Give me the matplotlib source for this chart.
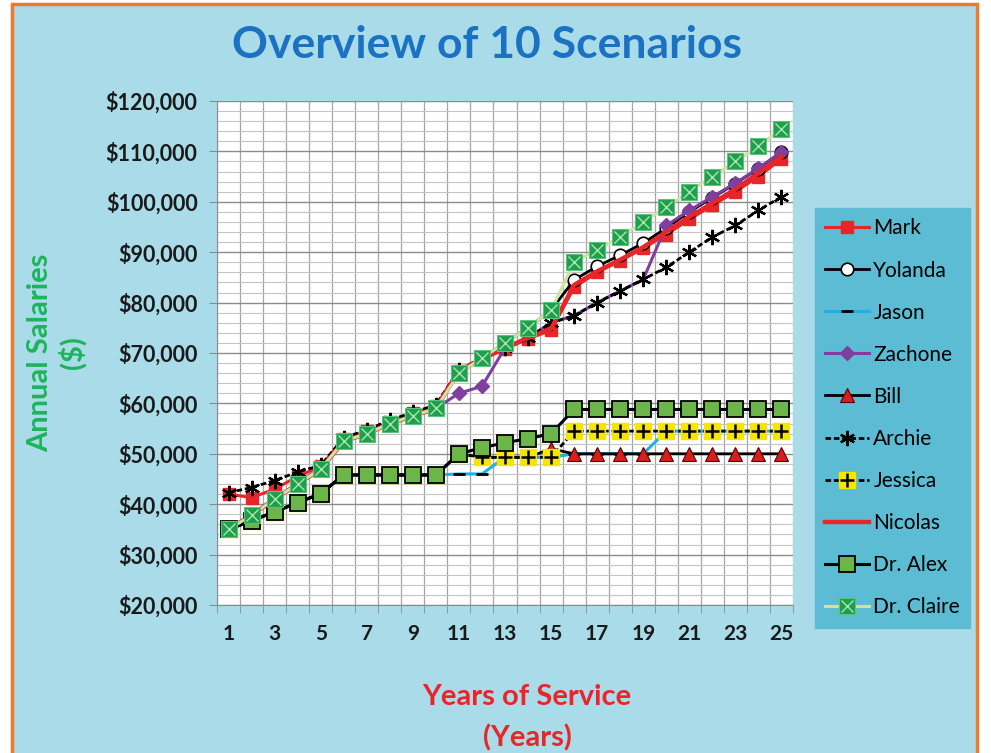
import numpy as np
import matplotlib.pyplot as plt
from matplotlib.patches import Rectangle
from matplotlib.ticker import MultipleLocator, FixedLocator, StrMethodFormatter

plt.rcParams['font.family'] = ['Lato', 'DejaVu Sans']

# -----------------------------
# Data
# -----------------------------
years = np.arange(1, 26)

mark = [42000, 41300, 43000, 45500, 47500, 53000, 54500, 56300, 58000, 59500,
        66500, 68800, 70800, 72800, 74500, 83000, 86000, 88300, 90800, 93500,
        96500, 99300, 102000, 105000, 108500]
yolanda = [35000, 37800, 41000, 44000, 47000, 52500, 54000, 56000, 57500, 59000,
           66000, 69000, 72000, 75000, 78500, 84500, 87200, 89400, 91800, 94800,
           98000, 100800, 103600, 106600, 109800]
jason = [35000, 36700, 38500, 40300, 42100, 45800, 45800, 45800, 45800, 45800,
         46000, 46000, 49300, 49300, 49300, 50000, 50000, 50000, 50000, 54500,
         54500, 54500, 54500, 54500, 54500]
zachone = [35000, 37800, 41000, 44000, 47000, 52500, 54000, 56000, 57500, 59000,
           62000, 63400, 71000, 73000, 76000, 77400, 80000, 82300, 84600, 95300,
           98300, 101000, 103700, 106700, 109900]
bill = [35000, 36700, 38500, 40300, 42100, 45800, 45800, 45800, 45800, 45800,
        50000, 49300, 49300, 49300, 51000, 50000, 50000, 50000, 50000, 50000,
        50000, 50000, 50000, 50000, 50000]
archie = [42300, 43300, 44700, 46400, 47700, 53200, 54700, 56700, 58200, 59700,
          66700, 69000, 71000, 73000, 76000, 77400, 80000, 82300, 84600, 87000,
          90000, 93000, 95300, 98300, 101000]
jessica = [35000, 36700, 38500, 40300, 42100, 45800, 45800, 45800, 45800, 45800,
           50000, 49300, 49300, 49300, 49300, 54500, 54500, 54500, 54500, 54500,
           54500, 54500, 54500, 54500, 54500]
nicolas = [35000, 37800, 41000, 44000, 47000, 52500, 54000, 56000, 57500, 59000,
           66500, 68800, 71000, 73000, 74800, 83500, 86200, 88500, 91000, 94000,
           97000, 99700, 102500, 105700, 109000]
dr_alex = [35000, 36700, 38500, 40300, 42100, 45800, 45800, 45800, 45800, 45800,
           50000, 51200, 52200, 53000, 54000, 58800, 58800, 58800, 58800, 58800,
           58800, 58800, 58800, 58800, 58800]
dr_claire = [35000, 37800, 41000, 44000, 47000, 52500, 54000, 56000, 57500, 59000,
             66000, 69000, 72000, 75000, 78500, 88000, 90500, 93000, 96000, 99000,
             102000, 105000, 108000, 111000, 114500]

names = ['Mark', 'Yolanda', 'Jason', 'Zachone', 'Bill', 'Archie', 'Jessica',
         'Nicolas', 'Dr. Alex', 'Dr. Claire']

# -----------------------------
# Figure + frame
# -----------------------------
fig = plt.figure(figsize=(9.91, 7.53), dpi=100, facecolor='white')
fig.patches.append(Rectangle((12 / 991, -0.02), (977 - 12) / 991, 1.02 - 4 / 753,
                             transform=fig.transFigure, facecolor='#a9dce8',
                             edgecolor='#f07a28', lw=2.5, zorder=-5))

ax = fig.add_axes([217 / 991, 1 - 605 / 753, (793 - 217) / 991, (605 - 101) / 753])
ax.set_facecolor('white')

red = '#e8262a'
handles = []

h, = ax.plot(years, mark, color=red, lw=2.2, marker='s', ms=8, mfc=red, mec=red,
             zorder=3)
handles.append(h)
h, = ax.plot(years, yolanda, color='black', lw=2.0, marker='o', ms=9, mfc='white',
             mec='black', mew=1.2, zorder=4)
handles.append(h)
h, = ax.plot(years, jason, color='#22aee6', lw=2.2, marker='_', ms=8, mec='black',
             mew=2, zorder=5)
handles.append(h)
# Zachone's markers sit behind Archie's points in years 13-19
h, = ax.plot(years, zachone, color='#7f3fa0', lw=2.2, marker='D', ms=7.5, mfc='#7f3fa0',
             mec='#7f3fa0', zorder=6,
             markevery=list(range(0, 12)) + list(range(19, 25)))
handles.append(h)
h, = ax.plot(years, bill, color='black', lw=2.0, marker='^', ms=10, mfc='#d91e1e',
             mec='#5a0000', mew=0.8, zorder=7)
handles.append(h)
h, = ax.plot(years, archie, color='black', lw=2.0, ls=(0, (2, 1)), marker=(6, 2, 0),
             ms=11, mec='black', mew=1.6, zorder=8)
handles.append(h)
h1, = ax.plot(years, jessica, color='black', lw=2.0, ls=(0, (2, 1)), marker='s',
              ms=12, mfc='#f5e600', mec='#f5e600', zorder=9)
h2, = ax.plot(years, jessica, ls='none', marker='+', ms=10, mec='black', mew=1.8,
              zorder=9)
handles.append((h1, h2))
h, = ax.plot(years, nicolas, color=red, lw=3.2, zorder=10)
handles.append(h)
h, = ax.plot(years, dr_alex, color='black', lw=2.2, marker='s', ms=11, mfc='#6cb548',
             mec='black', mew=1.3, zorder=11)
handles.append(h)
h1, = ax.plot(years, dr_claire, color='#cfe3a6', lw=2.2, marker='s', ms=12,
              mfc='#1f9e50', mec='#5cc47a', mew=0.8, zorder=12)
h2, = ax.plot(years, dr_claire, ls='none', marker='x', ms=9, mec='#a8e6a8', mew=1.0,
              zorder=12)
handles.append((h1, h2))

# -----------------------------
# Axes styling
# -----------------------------
ax.set_xlim(0.5, 25.5)
ax.set_ylim(20000, 120000)
ax.xaxis.set_major_locator(FixedLocator(years[::2]))
ax.xaxis.set_minor_locator(MultipleLocator(1, offset=0.5))
ax.yaxis.set_major_locator(MultipleLocator(10000))
ax.yaxis.set_minor_locator(MultipleLocator(2000))
ax.yaxis.set_major_formatter(StrMethodFormatter('${x:,.0f}'))

ax.grid(which='minor', axis='x', color='#a6a6a6', lw=0.9)
ax.grid(which='major', axis='y', color='#8c8c8c', lw=1.0)
ax.grid(which='minor', axis='y', color='#c4c4c4', lw=0.8)
ax.set_axisbelow(True)

ax.tick_params(axis='x', which='major', length=0, pad=14, labelsize=15)
ax.tick_params(axis='x', which='minor', length=6, color='#8c8c8c', direction='out')
ax.tick_params(axis='y', which='major', length=6, color='#8c8c8c', pad=8, labelsize=15.5)
ax.tick_params(axis='y', which='minor', length=0)
for lbl in ax.get_xticklabels() + ax.get_yticklabels():
    lbl.set_fontweight('bold')
    lbl.set_color('#1a1a1a')

for side in ['top', 'right']:
    ax.spines[side].set_visible(False)
ax.spines['left'].set_color('#8c8c8c')
ax.spines['bottom'].set_color('#8c8c8c')

# -----------------------------
# Texts
# -----------------------------
fig.text(487 / 991, 1 - 45 / 753, 'Overview of 10 Scenarios', ha='center', va='center',
         fontsize=32, fontweight='bold', color='#1b72c2')
fig.text(40 / 991, 1 - 353 / 753, 'Annual Salaries', rotation=90, ha='center',
         va='center', fontsize=21, fontweight='bold', color='#1db45a')
fig.text(72 / 991, 1 - 353 / 753, '($)', rotation=90, ha='center', va='center',
         fontsize=21, fontweight='bold', color='#1db45a')
fig.text(527 / 991, 1 - 697 / 753, 'Years of Service', ha='center', va='center',
         fontsize=21, fontweight='bold', color=red)
fig.text(527 / 991, 1 - 738 / 753, '(Years)', ha='center', va='center',
         fontsize=21, fontweight='bold', color=red)

leg = fig.legend(handles, names, loc='upper left',
                 bbox_to_anchor=(815 / 991, 1 - 208 / 753), frameon=True,
                 fontsize=15, labelspacing=1.06, handlelength=2.1, handletextpad=0.2,
                 borderpad=0.5, borderaxespad=0)
leg.get_frame().set_facecolor('#5cbcd3')
leg.get_frame().set_edgecolor('#5cbcd3')
leg.get_frame().set_alpha(1)
leg.get_frame().set_boxstyle('square', pad=0)

fig.savefig('out.png', dpi=100)
